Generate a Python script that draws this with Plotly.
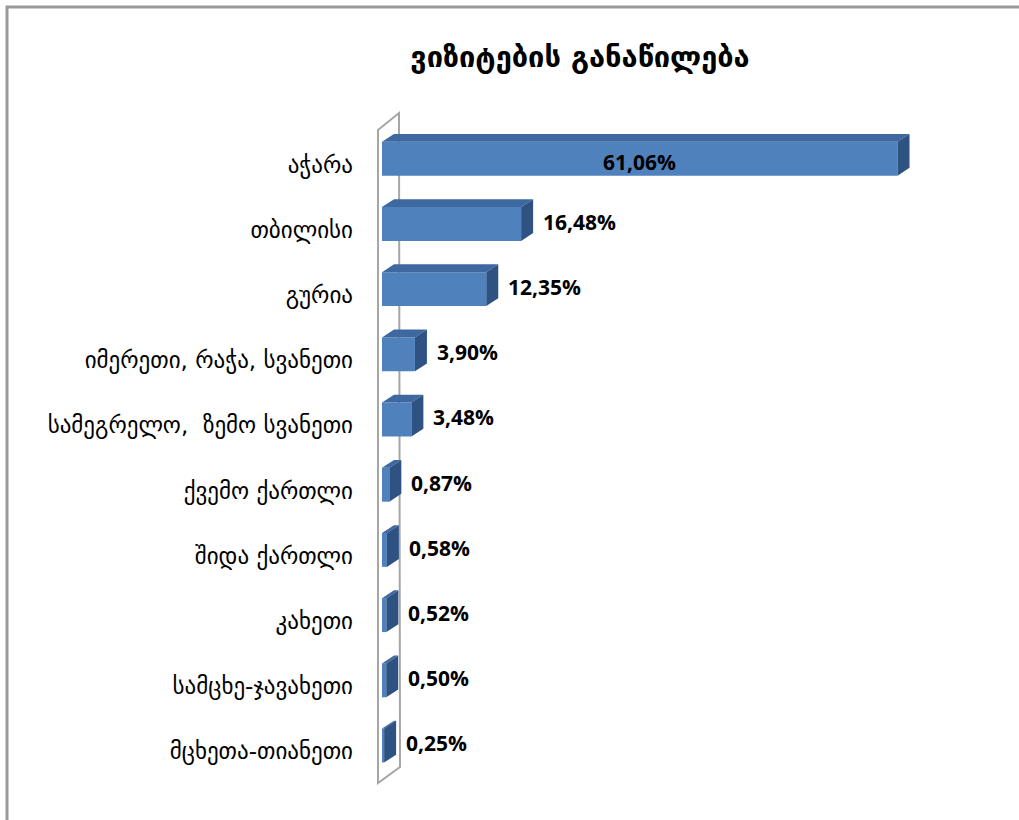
import plotly.graph_objects as go

# ---------------- data ----------------
categories = [
    "აჭარა",
    "თბილისი",
    "გურია",
    "იმერეთი, რაჭა, სვანეთი",
    "სამეგრელო,  ზემო სვანეთი",
    "ქვემო ქართლი",
    "შიდა ქართლი",
    "კახეთი",
    "სამცხე-ჯავახეთი",
    "მცხეთა-თიანეთი",
]
values = [61.06, 16.48, 12.35, 3.90, 3.48, 0.87, 0.58, 0.52, 0.50, 0.25]
title_text = "ვიზიტების განაწილება"

# ---------------- layout constants ----------------
W, H = 1019, 820
ML, MR, MT, MB = 382, 46, 132, 36
PW, PH = W - ML - MR, H - MT - MB
XMAX = 70
BAR_W = 0.52
BAR_OFF = -0.35
DEPTH_X = 1.42   # 3D depth along value axis (data units)
DEPTH_Y = 0.12   # 3D depth along category axis (data units)

FRONT = "#4f81bd"
TOP = "#3e69a0"
SIDE = "#2e5282"
WALL_LINE = "#a6a6a6"

def fx(px):
    return (px - ML) / PW

def fy(py):
    return (H - MB - py) / PH

pos = list(range(len(categories)))

def fmt(v):
    return f"{v:.2f}".replace(".", ",") + "%"

fig = go.Figure()
fig.add_trace(go.Bar(
    x=values, y=pos, orientation="h",
    width=BAR_W, offset=BAR_OFF,
    marker=dict(color=FRONT, line=dict(width=0)),
    text=[fmt(v) for v in values], textposition="none",
    hovertemplate="%{text}<extra></extra>",
))

shapes = []
# side wall (axis panel)
wall = (f"M {fx(378)},{fy(130)} L {fx(399)},{fy(113)} "
        f"L {fx(400)},{fy(767)} L {fx(378)},{fy(783)} Z")
shapes.append(dict(type="path", path=wall, xref="paper", yref="paper",
                   fillcolor="white", line=dict(color=WALL_LINE, width=2),
                   layer="below"))

# 3D faces of bars
for i, v in zip(pos, values):
    top = i + BAR_OFF
    bot = i + BAR_OFF + BAR_W
    tp = (f"M 0,{top} L {v},{top} L {v + DEPTH_X},{top - DEPTH_Y} "
          f"L {DEPTH_X},{top - DEPTH_Y} Z")
    sp = (f"M {v},{top} L {v + DEPTH_X},{top - DEPTH_Y} "
          f"L {v + DEPTH_X},{bot - DEPTH_Y} L {v},{bot} Z")
    shapes.append(dict(type="path", path=tp, xref="x", yref="y",
                       fillcolor=TOP, line=dict(width=0), layer="above"))
    shapes.append(dict(type="path", path=sp, xref="x", yref="y",
                       fillcolor=SIDE, line=dict(width=0), layer="above"))

# outer chart border
shapes.append(dict(type="rect", xref="paper", yref="paper",
                   x0=fx(7), y0=fy(7), x1=fx(1040), y1=fy(840),
                   line=dict(color="#9a9a9a", width=3), fillcolor="rgba(0,0,0,0)",
                   layer="above"))

LABEL_FONT = dict(family="Open Sans", size=21, color="black", weight="bold")
annotations = []
for i, v in zip(pos, values):
    if v > 40:
        annotations.append(dict(x=v / 2, y=i, xref="x", yref="y", text=fmt(v),
                                showarrow=False, xanchor="center", yshift=3,
                                font=LABEL_FONT))
    else:
        annotations.append(dict(x=v, y=i, xref="x", yref="y", text=fmt(v),
                                showarrow=False, xanchor="left", xshift=20, yshift=8,
                                font=LABEL_FONT))

fig.update_layout(
    width=W, height=H,
    margin=dict(l=ML, r=MR, t=MT, b=MB),
    paper_bgcolor="white",
    plot_bgcolor="rgba(0,0,0,0)",
    showlegend=False,
    title=dict(text=title_text, x=580 / W, xanchor="center", y=1 - 57 / H, yanchor="middle",
               font=dict(family="DejaVu Sans", size=29, color="black", weight="bold")),
    xaxis=dict(range=[0, XMAX], visible=False, showgrid=False, zeroline=False, fixedrange=True),
    yaxis=dict(range=[len(categories) - 0.5, -0.5], tickvals=pos, ticktext=categories,
               showgrid=False, zeroline=False, showline=False, ticks="",
               ticklabelstandoff=28,
               tickfont=dict(family="DejaVu Sans", size=23, color="black")),
    shapes=shapes,
    annotations=annotations,
)

fig.write_html(
    "out.html",
    config={"displayModeBar": False},
    post_script="document.body.style.margin='0';document.body.style.overflow='hidden';",
)
